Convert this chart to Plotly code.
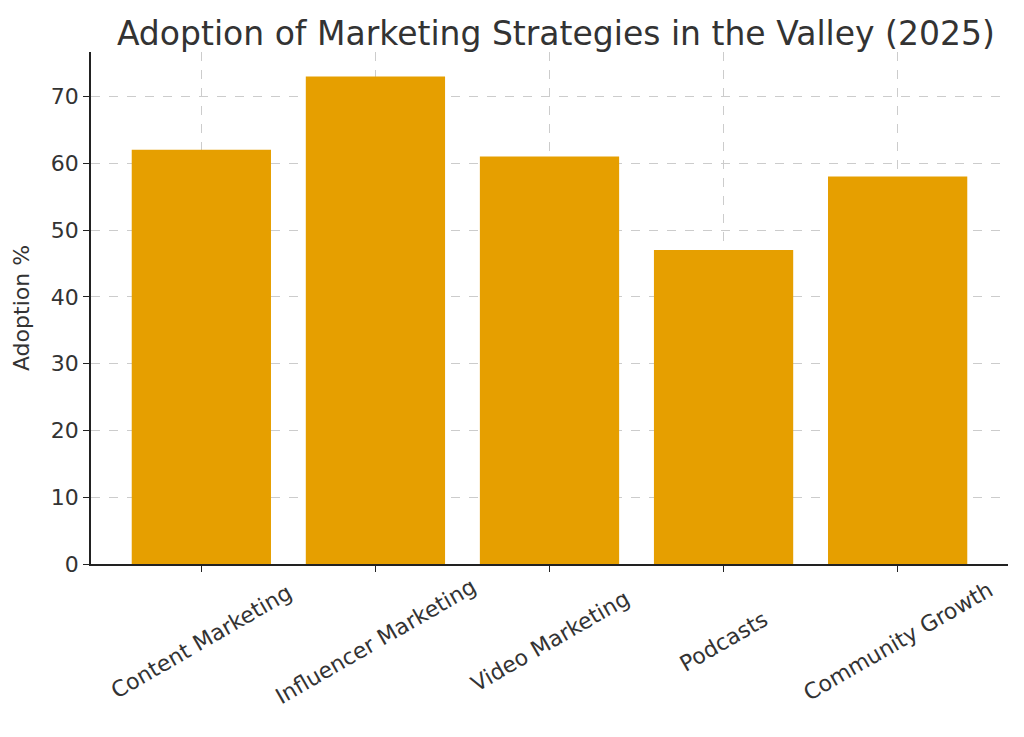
import plotly.graph_objects as go

categories = ["Content Marketing", "Influencer Marketing", "Video Marketing", "Podcasts", "Community Growth"]
adoption = [62, 73, 61, 47, 58]
yticks = [0, 10, 20, 30, 40, 50, 60, 70]

fig = go.Figure(go.Bar(x=list(range(len(categories))), y=adoption, width=0.8,
                       marker=dict(color="#E69F00", line=dict(width=0))))
fig.update_layout(
    width=1024, height=737, paper_bgcolor="white", plot_bgcolor="white",
    margin=dict(l=79, r=24, t=44, b=181),
    font=dict(family="DejaVu Sans", color="#333333", size=22),
    title=dict(text="Adoption of Marketing Strategies in the Valley (2025)", x=0.535, xanchor="center",
               y=0.965, yanchor="middle", font=dict(size=33, color="#333333")),
    showlegend=False,
)
for i, c in enumerate(categories):
    fig.add_annotation(x=i, y=0, xref="x", yref="paper", text=c, showarrow=False,
                       textangle=-30, xanchor="center", yanchor="middle", yshift=-77,
                       font=dict(size=22, color="#333333"))
fig.update_xaxes(range=[-0.634, 4.634], tickvals=list(range(len(categories))), showticklabels=False,
                 showgrid=True, gridcolor="#cccccc", griddash="dash", gridwidth=1,
                 showline=True, linecolor="#222222", linewidth=1.5, ticks="outside", ticklen=6,
                 tickcolor="#222222", zeroline=False)
fig.update_yaxes(range=[0, 76.65], tickvals=yticks, showgrid=True, gridcolor="#cccccc", griddash="dash",
                 showline=True, linecolor="#222222", linewidth=1.5, ticks="outside", ticklen=6,
                 tickcolor="#222222", zeroline=False, title=dict(text="Adoption %", font=dict(size=22)),
                 tickfont=dict(size=22))
fig.write_html("out.html")
